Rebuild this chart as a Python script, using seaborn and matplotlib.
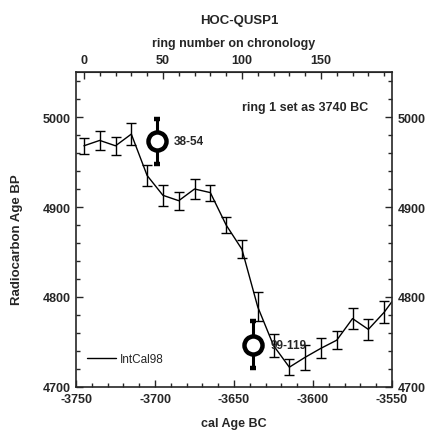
import numpy as np
import pandas as pd
import matplotlib
matplotlib.use("Agg")
import matplotlib.pyplot as plt
from matplotlib.ticker import MultipleLocator
import seaborn as sns

# IntCal98 curve (cal BC as negative years)
cal_year = [-3745, -3735, -3725, -3715, -3705, -3695, -3685, -3675, -3665, -3655,
            -3645, -3635, -3625, -3615, -3605, -3595, -3585, -3575, -3565, -3555, -3545]
c14_age = [4968, 4974, 4968, 4981, 4935, 4913, 4907, 4920, 4916, 4880,
           4853, 4789, 4746, 4722, 4733, 4743, 4752, 4776, 4764, 4783, 4807]
c14_err = [9, 11, 10, 12, 12, 12, 10, 11, 9, 9,
           10, 16, 13, 9, 14, 11, 10, 12, 12, 12, 0]

# measured samples (ring ranges)
sample_label = ["38-54", "99-119"]
sample_year = [-3699, -3638]
sample_age = [4973, 4747]
sample_err = [25, 26]

ring_offset = 3745  # ring number = cal year + offset

df = pd.DataFrame({"year": cal_year, "age": c14_age, "err": c14_err})

sns.set_style("ticks")
plt.rcParams["font.family"] = ["Liberation Sans", "DejaVu Sans"]
plt.rcParams["font.weight"] = "bold"
plt.rcParams["axes.labelweight"] = "bold"
plt.rcParams["axes.unicode_minus"] = False

fig = plt.figure(figsize=(4.28, 4.31), dpi=100)
ax = fig.add_axes([0.1776, 0.0998, 0.7384, 0.7308])

sns.lineplot(data=df, x="year", y="age", color="black", linewidth=1.0,
             ax=ax, label="IntCal98")
ax.errorbar(df["year"][:-1], df["age"][:-1], yerr=df["err"][:-1], fmt="none",
            ecolor="black", elinewidth=1.0, capsize=3.6, capthick=1.0)

ax.errorbar(sample_year, sample_age, yerr=sample_err, fmt="o", color="black",
            markersize=13, markerfacecolor="white", markeredgewidth=3.2,
            elinewidth=2.2, capsize=2, capthick=2.2, zorder=5)
for lab, x, y in zip(sample_label, sample_year, sample_age):
    ax.text(x + 11, y, lab, fontsize=8.5, fontweight="bold", va="center", ha="left", zorder=6)

ax.text(-3605, 5011, "ring 1 set as 3740 BC", fontsize=9, fontweight="bold",
        ha="center", va="center")

ax.set_xlim(-3750, -3550)
ax.set_ylim(4700, 5050)
ax.xaxis.set_major_locator(MultipleLocator(50))
ax.xaxis.set_minor_locator(MultipleLocator(10))
ax.yaxis.set_major_locator(MultipleLocator(100))
ax.yaxis.set_minor_locator(MultipleLocator(20))
ax.tick_params(which="both", direction="in", top=False, right=True, labelright=True,
               labelsize=9, width=1)
ax.tick_params(which="major", length=5, pad=4)
ax.tick_params(which="minor", length=3)

ax.set_xlabel("cal Age BC", fontsize=9, fontweight="bold", labelpad=9)
ax.set_ylabel("Radiocarbon Age BP", fontsize=9.5, fontweight="bold")
ax.yaxis.set_label_coords(-0.168, 0.47)

top = ax.secondary_xaxis("top", functions=(lambda x: x + ring_offset,
                                           lambda r: r - ring_offset))
top.set_xticks([0, 50, 100, 150])
top.xaxis.set_minor_locator(MultipleLocator(10))
top.tick_params(which="both", direction="in", labelsize=9, width=1)
top.tick_params(which="major", length=5, pad=4)
top.tick_params(which="minor", length=3)
top.set_xlabel("ring number on chronology", fontsize=9, fontweight="bold", labelpad=6)

for s in ax.spines.values():
    s.set_linewidth(1.2)
    s.set_visible(True)

leg = ax.legend(loc="lower left", bbox_to_anchor=(0.0, 0.035), frameon=False,
                fontsize=8.5, handlelength=2.45, handletextpad=0.35)
for t in leg.get_texts():
    t.set_fontweight("normal")

fig.text(0.56, 0.952, "HOC-QUSP1", fontsize=9.5, fontweight="bold", ha="center", va="center")

fig.savefig("out.png", dpi=100)
